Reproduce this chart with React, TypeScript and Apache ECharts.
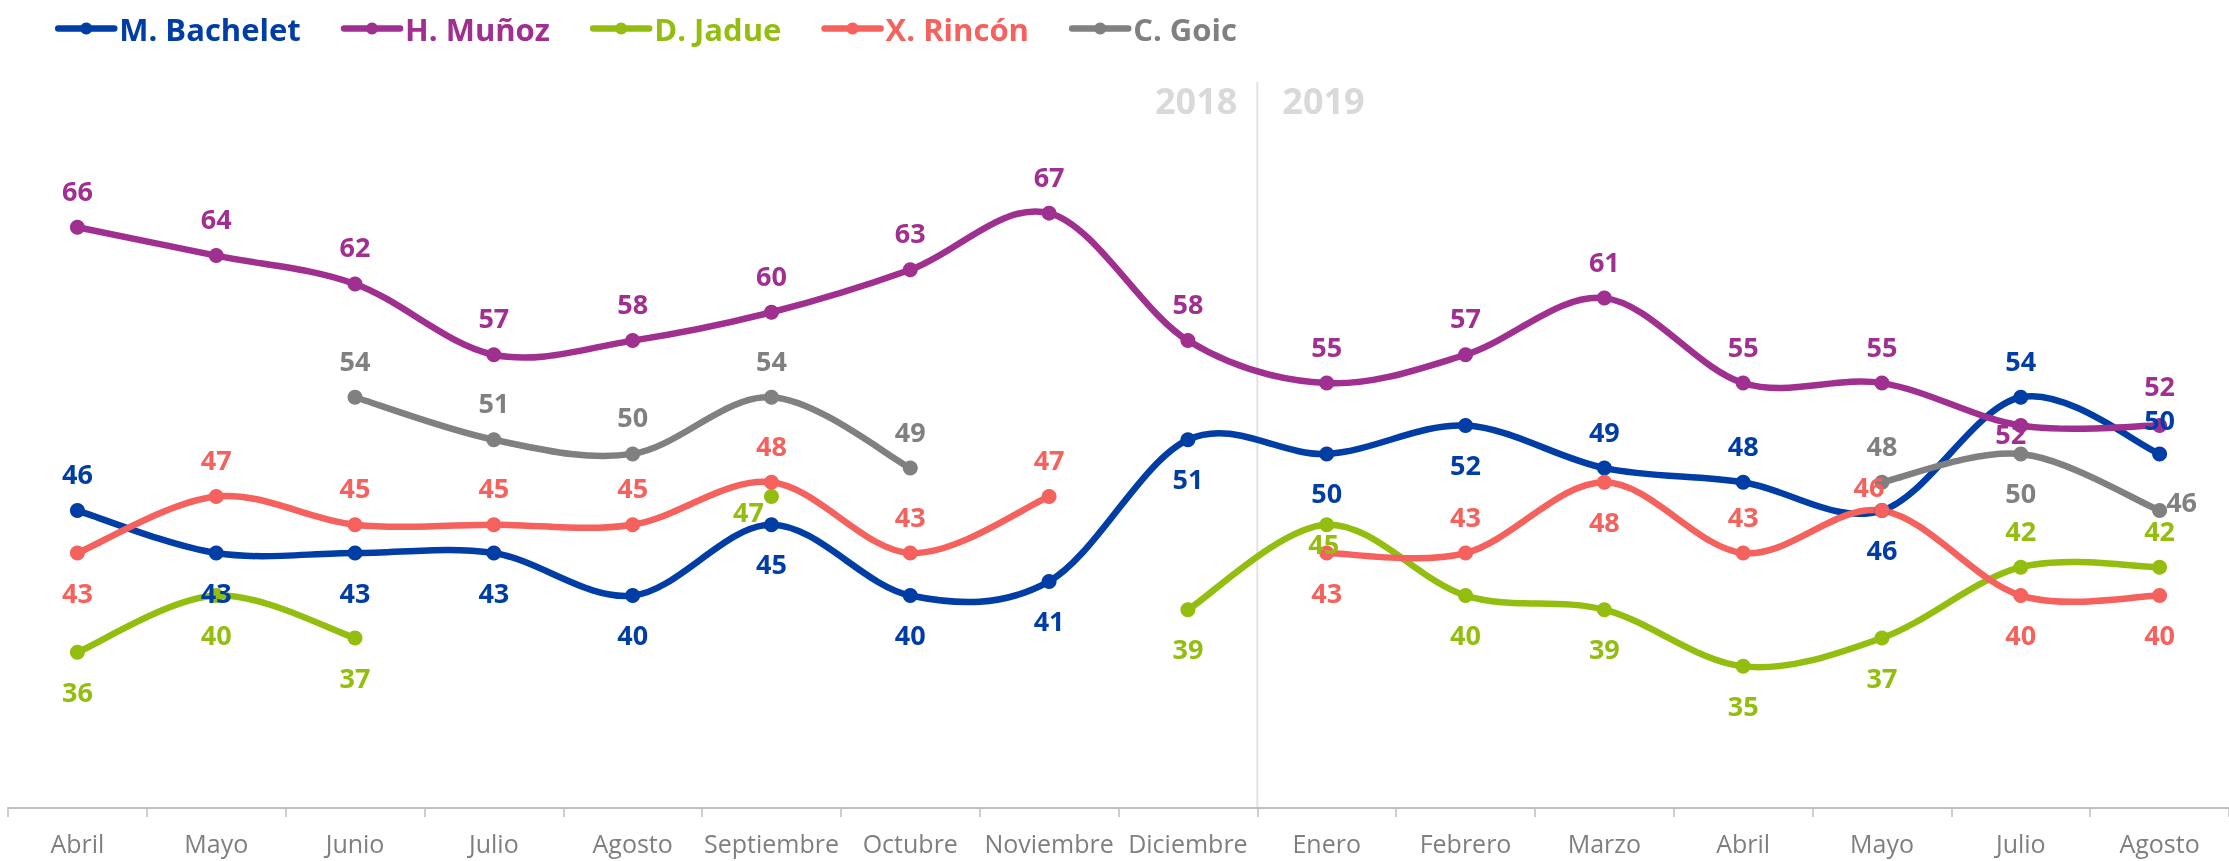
import React, { useEffect, useRef } from 'react';
import * as echarts from 'echarts';

const categories = ['Abril', 'Mayo', 'Junio', 'Julio', 'Agosto', 'Septiembre', 'Octubre', 'Noviembre', 'Diciembre', 'Enero', 'Febrero', 'Marzo', 'Abril', 'Mayo', 'Julio', 'Agosto'];
const bachelet = [46, 43, 43, 43, 40, 45, 40, 41, 51, 50, 52, 49, 48, 46, 54, 50];
const munoz = [66, 64, 62, 57, 58, 60, 63, 67, 58, 55, 57, 61, 55, 55, 52, 52];
const jadue = [36, 40, 37, null, null, 47, null, null, 39, 45, 40, 39, 35, 37, 42, 42];
const rincon = [43, 47, 45, 45, 45, 48, 43, 47, null, 43, 43, 48, 43, 46, 40, 40];
const goic = [null, null, 54, 51, 50, 54, 49, null, null, null, null, null, null, 48, 50, 46];
const seriesNames = ['M. Bachelet', 'H. Muñoz', 'D. Jadue', 'X. Rincón', 'C. Goic'];
const yearLabels = ['2018', '2019'];

// label placement (style only): 't' above, 'b' below, or [dx, dy] offset
type Place = 't' | 'b' | '-' | [number, number];
const bacheletPlace: Place[] = ['t', 'b', 'b', 'b', 'b', 'b', 'b', 'b', 'b', 'b', 'b', 't', 't', 'b', 't', [0, -34]];
const munozPlace: Place[] = ['t', 't', 't', 't', 't', 't', 't', 't', 't', 't', 't', 't', 't', 't', [-10, 8], [0, -40]];
const jaduePlace: Place[] = ['b', 'b', 'b', '-', '-', [-23, 15], '-', '-', 'b', [-3, 19], 'b', 'b', 'b', 'b', 't', 't'];
const rinconPlace: Place[] = ['b', 't', 't', 't', 't', 't', 't', 't', '-', 'b', 't', 'b', 't', [-13, -24], 'b', 'b'];
const goicPlace: Place[] = ['-', '-', 't', 't', 't', 't', 't', '-', '-', '-', '-', '-', '-', 't', 'b', [22, -9]];

const colors = ['#003DA5', '#A0308F', '#93BE10', '#F5625D', '#808080'];
const FONT = "'Open Sans', sans-serif";
const LINE_W = 6.5;

function buildData(values: (number | null)[], places: Place[]) {
  return values.map((v, i) => {
    if (v === null) return null;
    const p = places[i];
    let offset: [number, number] = [0, -37];
    if (p === 'b') offset = [0, 39];
    else if (Array.isArray(p)) offset = p;
    return { value: v, label: { offset } };
  });
}

// Catmull-Rom (Excel-like) smoothing through points mapped by the axes
function curvePath(values: (number | null)[], api: any) {
  let d = '';
  let run: number[][] = [];
  const flush = () => {
    if (run.length >= 2) {
      d += `M${run[0][0]},${run[0][1]}`;
      for (let j = 0; j < run.length - 1; j++) {
        const p0 = run[j - 1] || run[j];
        const p1 = run[j];
        const p2 = run[j + 1];
        const p3 = run[j + 2] || run[j + 1];
        const c1x = p1[0] + (p2[0] - p0[0]) / 6;
        const c1y = p1[1] + (p2[1] - p0[1]) / 6;
        const c2x = p2[0] - (p3[0] - p1[0]) / 6;
        const c2y = p2[1] - (p3[1] - p1[1]) / 6;
        d += ` C${c1x},${c1y} ${c2x},${c2y} ${p2[0]},${p2[1]}`;
      }
    }
    run = [];
  };
  values.forEach((v, i) => {
    if (v === null) flush();
    else run.push(api.coord([i, v]));
  });
  flush();
  return d;
}

export default function App() {
  const ref = useRef<HTMLDivElement>(null);
  useEffect(() => {
    if (!ref.current) return;
    const chart = echarts.init(ref.current, undefined, { renderer: 'svg' });
    const allValues = [bachelet, munoz, jadue, rincon, goic];
    const allPlaces = [bacheletPlace, munozPlace, jaduePlace, rinconPlace, goicPlace];
    const series: any[] = [];
    seriesNames.forEach((name, si) => {
      series.push({
        name: name + ' curve',
        type: 'custom',
        z: 2,
        silent: true,
        clip: false,
        data: [[0, 50]],
        encode: { x: 0, y: 1 },
        renderItem: (params: any, api: any) => ({
          type: 'path',
          shape: { pathData: curvePath(allValues[si], api) },
          style: { stroke: colors[si], lineWidth: LINE_W, fill: 'none', lineCap: 'round', lineJoin: 'round' },
        }),
      });
    });
    seriesNames.forEach((name, si) => {
      series.push({
        name,
        type: 'line',
        z: 3,
        data: buildData(allValues[si], allPlaces[si]),
        connectNulls: false,
        symbol: 'circle',
        symbolSize: 15,
        showSymbol: true,
        lineStyle: { color: colors[si], width: 0, opacity: 0 },
        itemStyle: { color: colors[si] },
        label: {
          show: true,
          position: 'inside',
          color: colors[si],
          fontFamily: FONT,
          fontWeight: 'bold',
          fontSize: 27,
        },
        emphasis: { disabled: true },
      });
    });
    chart.setOption({
      animation: false,
      textStyle: { fontFamily: FONT },
      legend: {
        left: 50,
        top: 8,
        itemWidth: 56,
        itemHeight: 15,
        itemGap: 40,
        data: seriesNames.map((n, i) => ({
          name: n,
          textStyle: { color: colors[i] },
          lineStyle: { color: colors[i], width: LINE_W, opacity: 1, cap: 'round' },
          itemStyle: { color: colors[i] },
        })),
        textStyle: { fontFamily: FONT, fontWeight: 'bold', fontSize: 31 },
      },
      grid: { left: 8, width: 2232, top: 29, bottom: 53, containLabel: false },
      xAxis: {
        type: 'category',
        data: categories,
        boundaryGap: true,
        axisLine: { lineStyle: { color: '#bfbfbf', width: 2 } },
        axisTick: { show: true, length: 9, lineStyle: { color: '#bfbfbf', width: 1.5 } },
        axisLabel: { color: '#7f7f7f', fontSize: 25, lineHeight: 28, fontFamily: FONT, margin: 21, interval: 0 },
        splitLine: { show: false },
      },
      yAxis: { type: 'value', min: 25, max: 80, show: false, splitLine: { show: false } },
      series,
    });
    const p8 = chart.convertToPixel({ xAxisIndex: 0 }, 8) as number;
    const p9 = chart.convertToPixel({ xAxisIndex: 0 }, 9) as number;
    const xSep = (p8 + p9) / 2;
    const yBottom = chart.convertToPixel({ yAxisIndex: 0 }, 25) as number;
    chart.setOption({
      graphic: [
        { type: 'line', shape: { x1: xSep, y1: 82, x2: xSep, y2: yBottom }, style: { stroke: '#e3e3e3', lineWidth: 2 }, z: 0 },
        { type: 'text', x: xSep - 20, y: 100, style: { text: yearLabels[0], fill: '#d9d9d9', font: `bold 36px ${FONT}`, align: 'right', verticalAlign: 'middle' } },
        { type: 'text', x: xSep + 25, y: 100, style: { text: yearLabels[1], fill: '#d9d9d9', font: `bold 36px ${FONT}`, align: 'left', verticalAlign: 'middle' } },
      ],
    });
    return () => chart.dispose();
  }, []);
  return <div ref={ref} style={{ position: 'fixed', left: 0, top: 0, width: 2229, height: 861 }} />;
}
